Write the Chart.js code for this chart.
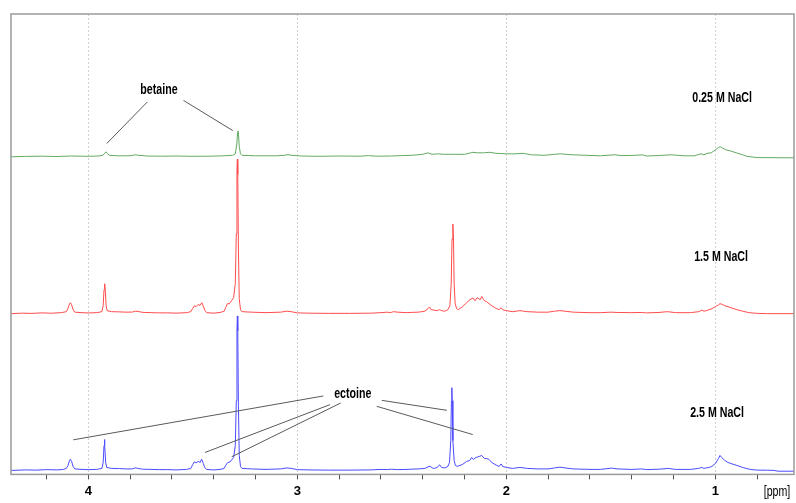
<!DOCTYPE html>
<html><head><meta charset="utf-8">
<script src="https://cdn.jsdelivr.net/npm/chart.js@4.4.1/dist/chart.umd.min.js"></script>
<style>html,body{margin:0;padding:0;background:#fff;overflow:hidden}</style>
</head><body>
<canvas id="c" width="796" height="503" style="width:796px;height:503px;display:block"></canvas>
<script>
// ---- data ----
const MAJOR_TICKS = [4, 3, 2, 1];
const MINOR_TICKS = [4.2, 3.8, 3.6, 3.4, 3.2, 2.8, 2.6, 2.4, 2.2, 1.8, 1.6, 1.4, 1.2, 0.8];
const X_UNIT = '[ppm]';
const X_RANGE = [4.37, 0.624];
const Y_RANGE = [0, 462];
const SERIES_NAMES = ['0.25 M NaCl', '1.5 M NaCl', '2.5 M NaCl'];
const SERIES_COLORS = ['#62aa62', '#ff4c4c', '#4b4bff'];
const SERIES_OFFSETS = [318.7, 161.3, 4];   // stacked baselines (intensity units)

// [ppm, intensity above baseline]
const SPEC_025 = [
[4.37,0],[4.30,0.4],[4.22,0.6],[4.15,0.3],[4.08,0.8],[4.0,0.5],[3.95,0.8],
[3.93,1.5],[3.92,4],[3.915,5],[3.91,3.5],[3.9,1.5],
[3.86,1],[3.80,1],[3.775,2],[3.76,1.5],[3.72,0.8],[3.65,0.6],[3.58,0.8],[3.50,0.5],[3.42,0.6],[3.35,1],[3.31,1.5],
[3.297,3],[3.29,12],[3.286,24],[3.284,26],[3.282,24],[3.278,10],[3.272,3],[3.265,1.5],
[3.2,1],[3.1,1],[3.06,1.5],[3.045,2.2],[3.03,1.5],[2.98,0.8],[2.9,0.5],[2.8,0.8],[2.7,0.6],[2.66,1.2],[2.62,0.6],[2.55,0.8],
[2.5,1.2],[2.45,1.5],[2.40,2.5],[2.375,4],[2.365,3],[2.35,2.5],[2.33,3],[2.3,2.5],[2.25,2.5],[2.2,2.5],[2.17,4],[2.16,4.5],
[2.14,4],[2.11,4],[2.08,4.5],[2.05,3.5],[2.0,3],[1.96,3],[1.92,3.5],[1.88,2],[1.82,1.5],[1.77,2.5],[1.74,3],[1.70,2.2],
[1.62,1.5],[1.55,1],[1.48,2],[1.45,1.2],[1.38,1.5],[1.35,2],[1.33,0.8],[1.28,1.2],[1.21,2],[1.15,1],[1.10,1],[1.07,3],
[1.055,2],[1.04,3.5],[1.02,4],[1.0,7],[0.985,9.5],[0.975,10],[0.965,8.5],[0.95,7],[0.93,6],[0.9,4],[0.87,2],[0.85,0.5],
[0.8,-0.8],[0.624,-1]
];
const SPEC_15 = [
[4.37,0],[4.32,0.5],[4.27,0.3],[4.22,0.8],[4.18,0.4],[4.13,1],
[4.105,2],[4.097,5.5],[4.09,10],[4.086,11],[4.08,9],[4.073,4],[4.065,1.5],
[4.03,1],[4.0,0.7],[3.96,1],
[3.935,2],[3.929,8],[3.925,24],[3.922,30],[3.919,24],[3.915,8],[3.91,3],
[3.89,2],[3.85,1.8],[3.82,1.5],[3.79,1.6],[3.775,2.5],[3.762,2.2],[3.74,1.3],[3.70,1],[3.66,0.8],[3.62,0.8],[3.58,0.5],[3.53,1],
[3.51,2],[3.50,5.5],[3.492,8],[3.485,7],[3.476,9],[3.466,8.5],[3.457,11],[3.449,7],[3.442,3],[3.434,1],
[3.40,0.5],[3.37,1.2],[3.35,2.5],
[3.343,6],[3.335,10],[3.325,10],[3.315,13],[3.305,16],[3.297,30],
[3.292,80],[3.289,145],[3.287,155],[3.285,140],[3.282,65],[3.278,15],[3.272,4],[3.265,2],
[3.22,1.5],[3.15,1],[3.08,1.5],[3.05,2.5],[3.03,2],[3.0,0.8],[2.95,0.5],[2.85,0.3],[2.75,0.3],[2.65,0.5],[2.60,1],
[2.57,1.5],[2.555,1],[2.54,2],[2.52,1.5],[2.48,1],[2.45,1.3],
[2.42,1.5],[2.39,2.5],[2.375,5],[2.368,6.7],[2.36,4],[2.345,3.5],[2.33,3],[2.32,4],[2.31,3],[2.295,2.5],[2.28,4],
[2.27,8],[2.264,30],[2.26,75],[2.256,90],[2.253,75],[2.25,30],[2.245,10],[2.238,5],[2.23,4],
[2.21,7],[2.19,11],[2.175,14],[2.16,15.7],[2.15,13],[2.14,16],[2.125,14],[2.118,17.3],[2.105,13],[2.095,12],[2.083,10],
[2.07,8],[2.055,6],[2.046,5],[2.035,4],[2.025,6],[2.018,4],[2.0,3],
[1.97,2],[1.935,3],[1.90,2],[1.85,1.5],[1.80,1.5],[1.77,2.5],[1.744,3],[1.72,2.5],[1.68,1.5],[1.60,1],[1.55,1],[1.50,1.5],
[1.47,1.2],[1.40,1],[1.35,1.2],[1.33,0.8],[1.27,1.2],[1.23,2],[1.19,1],[1.12,1],[1.08,2],[1.065,3.5],[1.055,2.5],[1.044,3],
[1.03,4],[1.017,5],[1.0,7],[0.985,9],[0.978,10],[0.97,9.5],[0.955,8],[0.94,7],[0.92,5.5],[0.897,4],[0.87,2.5],[0.84,1],
[0.80,0.3],[0.75,0],[0.624,0]
];
const SPEC_25 = [
[4.37,0],[4.30,0.5],[4.25,0.3],[4.20,0.8],[4.15,0.5],[4.12,1],
[4.105,2],[4.097,5],[4.09,10],[4.086,11.3],[4.08,9],[4.073,4],[4.065,1.5],
[4.03,1],[4.0,0.8],[3.96,1],
[3.935,2],[3.929,8],[3.925,25],[3.923,31],[3.921,25],[3.917,8],[3.912,3],
[3.89,2],[3.85,1.8],[3.82,1.5],[3.79,1.5],[3.775,2.5],[3.765,2.2],[3.74,1.2],[3.70,1],[3.66,0.8],[3.62,0.8],[3.58,0.5],[3.53,1],
[3.51,2],[3.50,6],[3.493,8.7],[3.485,7.5],[3.475,9],[3.465,8],[3.458,11.3],[3.45,7],[3.443,3],[3.435,1],
[3.40,0.5],[3.37,1],[3.35,2],
[3.343,5],[3.333,8],[3.322,8.5],[3.314,10.7],[3.305,13],[3.297,25],
[3.292,70],[3.289,140],[3.287,155],[3.285,140],[3.282,65],[3.278,15],[3.272,4],[3.265,2],
[3.22,1.5],[3.15,1],[3.08,1.5],[3.05,2.5],[3.03,2],[3.0,0.8],[2.95,0.5],[2.85,0.3],[2.75,0.3],[2.65,0.5],[2.60,1],
[2.57,0.8],[2.55,1.2],[2.52,0.8],[2.48,1],
[2.42,1.5],[2.39,2],[2.375,3.5],[2.365,4.3],[2.355,2.5],[2.345,2],[2.33,3],[2.32,5.7],[2.31,3],[2.295,2.5],[2.28,4],
[2.272,8],[2.266,30],[2.263,70],[2.261,83],[2.259,70],[2.256,30],[2.25,10],[2.244,5],[2.235,4],
[2.21,6],[2.19,9],[2.175,10],[2.166,13],[2.158,11],[2.145,13],[2.13,14],[2.118,15],[2.105,12],[2.095,12],[2.083,11],
[2.07,8],[2.055,6],[2.046,5],[2.035,4],[2.025,6.5],[2.018,4],[2.0,3],
[1.97,2],[1.935,3],[1.90,2],[1.85,1.5],[1.80,1.5],[1.77,2.5],[1.744,3.3],[1.72,2.5],[1.68,1.5],[1.60,1],[1.55,1],[1.496,2.3],
[1.47,1.5],[1.40,1],[1.352,1.5],[1.33,0.8],[1.27,1.2],[1.225,2],[1.19,1],[1.12,1],[1.08,2],[1.065,3],[1.055,2],[1.044,2.5],
[1.03,3],[1.017,4],[1.0,7],[0.985,12],[0.978,15],[0.97,13],[0.955,10],[0.94,8],[0.92,6.5],[0.897,5],[0.87,3],[0.834,1],
[0.80,0.3],[0.75,0.2],[0.72,0],[0.70,-0.8],[0.624,-0.8]
];
const SPECTRA = [SPEC_025, SPEC_15, SPEC_25];

// annotations in data coordinates [ppm, y]
const LABELS = [
  {text: 'betaine', at: [3.662, 386]},
  {text: 'ectoine', at: [2.735, 81]},
  {text: SERIES_NAMES[0], at: [0.968, 378]},
  {text: SERIES_NAMES[1], at: [0.973, 218]},
  {text: SERIES_NAMES[2], at: [0.992, 61.5]}
];
const LEADERS = [
  [[3.718, 373.7], [3.912, 332]],
  [[3.545, 375.3], [3.309, 345]],
  [[2.876, 78.7], [4.072, 34.7]],
  [[2.844, 70], [3.442, 22]],
  [[2.792, 71.7], [3.314, 17.7]],
  [[2.596, 74.3], [2.285, 64.3]],
  [[2.620, 68.3], [2.161, 40]]
];

const FONT = '"Liberation Sans", Arial, sans-serif';
const NARROW = 0.76;
const isMajor = v => MAJOR_TICKS.some(m => Math.abs(m - v) < 1e-6);

function narrowText(ctx, text, x, y) {
  ctx.save();
  ctx.translate(x, y);
  ctx.scale(NARROW, 1);
  ctx.fillText(text, 0, 0);
  ctx.restore();
}

const overlay = {
  id: 'overlay',
  afterDatasetsDraw(chart) {
    const {ctx, chartArea: a, scales: {x, y}} = chart;
    ctx.save();
    // frame
    ctx.strokeStyle = '#9a9a9a';
    ctx.lineWidth = 1.5;
    ctx.strokeRect(a.left, a.top, a.right - a.left, a.bottom - a.top);
    ctx.fillStyle = '#b0b0b0';
    ctx.fillRect(a.left - 1, a.top, 1, a.bottom - a.top);
    // leader lines
    ctx.strokeStyle = '#5a5a5a';
    ctx.lineWidth = 1;
    LEADERS.forEach(([p, q]) => {
      ctx.beginPath();
      ctx.moveTo(x.getPixelForValue(p[0]), y.getPixelForValue(p[1]));
      ctx.lineTo(x.getPixelForValue(q[0]), y.getPixelForValue(q[1]));
      ctx.stroke();
    });
    // labels
    ctx.fillStyle = '#000';
    ctx.font = 'bold 14px ' + FONT;
    ctx.textAlign = 'center';
    ctx.textBaseline = 'middle';
    LABELS.forEach(l => narrowText(ctx, l.text, x.getPixelForValue(l.at[0]), y.getPixelForValue(l.at[1])));
    // unit label on the tick-label line
    ctx.font = '14px ' + FONT;
    narrowText(ctx, X_UNIT, 777, x.top + 5 + 4 + 9);
    ctx.restore();
  }
};

new Chart(document.getElementById('c'), {
  type: 'line',
  data: {
    datasets: SPECTRA.map((s, i) => ({
      label: SERIES_NAMES[i],
      data: s.map(p => ({x: p[0], y: p[1] + SERIES_OFFSETS[i]})),
      borderColor: SERIES_COLORS[i],
      borderWidth: 1,
      pointRadius: 0,
      tension: 0,
      fill: false
    }))
  },
  options: {
    responsive: false,
    animation: false,
    devicePixelRatio: 1,
    layout: {padding: {left: 11, right: 2, top: 14, bottom: 0}},
    plugins: {legend: {display: false}, tooltip: {enabled: false}},
    scales: {
      x: {
        type: 'linear',
        reverse: true,
        min: X_RANGE[1],
        max: X_RANGE[0],
        afterBuildTicks: sc => { sc.ticks = MAJOR_TICKS.concat(MINOR_TICKS).sort((a, b) => b - a).map(v => ({value: v})); },
        ticks: {
          autoSkip: false, maxRotation: 0, padding: 4,
          color: '#000',
          font: {family: FONT, size: 13, weight: 'bold'},
          callback: v => isMajor(v) ? String(Math.round(v)) : ''
        },
        grid: {
          color: c => (c.tick && isMajor(c.tick.value)) ? '#d0d0d0' : 'rgba(0,0,0,0)',
          lineWidth: 1,
          drawTicks: true,
          tickLength: 5,
          tickColor: '#555',
          tickWidth: 1
        },
        border: {display: false, dash: [2, 2]}
      },
      y: {
        type: 'linear', display: false, min: Y_RANGE[0], max: Y_RANGE[1]
      }
    }
  },
  plugins: [overlay]
});
</script>
</body></html>
